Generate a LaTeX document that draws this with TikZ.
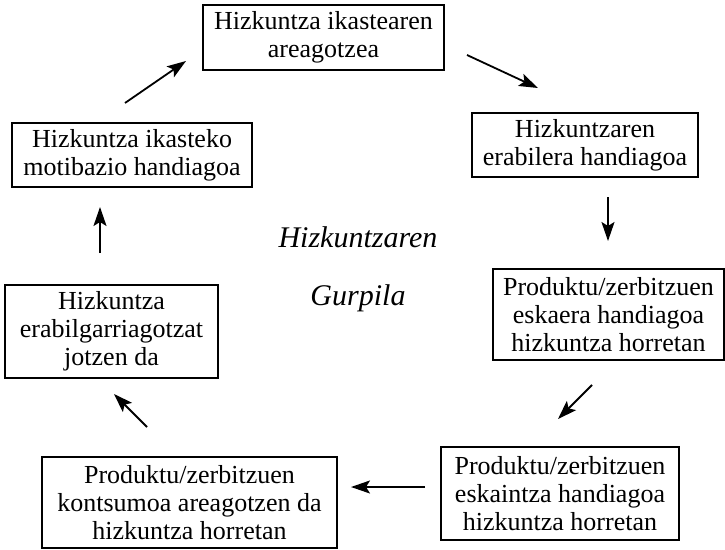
\documentclass[tikz,border=0pt]{standalone}
\usepackage{fontspec}
\setmainfont{Liberation Serif}
\usepackage{tikz}
\usetikzlibrary{arrows.meta}
\tikzset{
	pausua/.style = {draw, line width=2.2pt, align=center, inner sep=0pt, font=\fontsize{26}{28}\selectfont},
	gezia/.style = {line width=1.8pt, -{Stealth[length=19pt,width=13pt,inset=4pt]}}
}
\begin{document}
\begin{tikzpicture}[x=1pt, y=-1pt]
	      	\useasboundingbox (0,0) rectangle (725,549);
	      	\node[pausua, minimum width=241pt, minimum height=65pt] (ikas) at (323.5,37.5) {Hizkuntza ikastearen\\areagotzea};
	      	\node[pausua, minimum width=226pt, minimum height=64pt] (erab) at (585,145) {Hizkuntzaren\\erabilera handiagoa};
	      	\node[pausua, minimum width=231pt, minimum height=91pt] (eskaera) at (608.5,314.5) {Produktu/zerbitzuen\\eskaera handiagoa\\hizkuntza horretan};
	      	\node[pausua, minimum width=238pt, minimum height=93pt] (eskaintza) at (560,493.5) {Produktu/zerbitzuen\\eskaintza handiagoa\\hizkuntza horretan};
	      	\node[pausua, minimum width=295pt, minimum height=91pt] (kontsumo) at (189.5,502.5) {Produktu/zerbitzuen\\kontsumoa areagotzen da\\hizkuntza horretan};
	      	\node[pausua, minimum width=213pt, minimum height=93pt] (erabilg) at (111.5,331.5) {Hizkuntza\\erabilgarriagotzat\\jotzen da};
	      	\node[pausua, minimum width=240pt, minimum height=64pt] (motib) at (132,155) {Hizkuntza ikasteko\\motibazio handiagoa};
	      	\node[font=\fontsize{30}{58}\selectfont\itshape, align=center] (gurpila) at (358,269) {Hizkuntzaren\\Gurpila};
	      	\coordinate (a1) at (467,55);
	      	\coordinate (a2) at (538,88);
	      	\coordinate (b1) at (608,197);
	      	\coordinate (b2) at (608,241);
	      	\coordinate (c1) at (592,385);
	      	\coordinate (c2) at (558,419);
	      	\coordinate (d1) at (425,487);
	      	\coordinate (d2) at (351,487);
	      	\coordinate (e1) at (147,427);
	      	\coordinate (e2) at (114,394);
	      	\coordinate (f1) at (100,253);
	      	\coordinate (f2) at (100,207);
	      	\coordinate (g1) at (125,103);
	      	\coordinate (g2) at (186,61);
	      	\draw[gezia] (a1) -- (a2);
	      	\draw[gezia] (b1) -- (b2);
	      	\draw[gezia] (c1) -- (c2);
	      	\draw[gezia] (d1) -- (d2);
	      	\draw[gezia] (e1) -- (e2);
	      	\draw[gezia] (f1) -- (f2);
	      	\draw[gezia] (g1) -- (g2);
	      \end{tikzpicture}
\end{document}
